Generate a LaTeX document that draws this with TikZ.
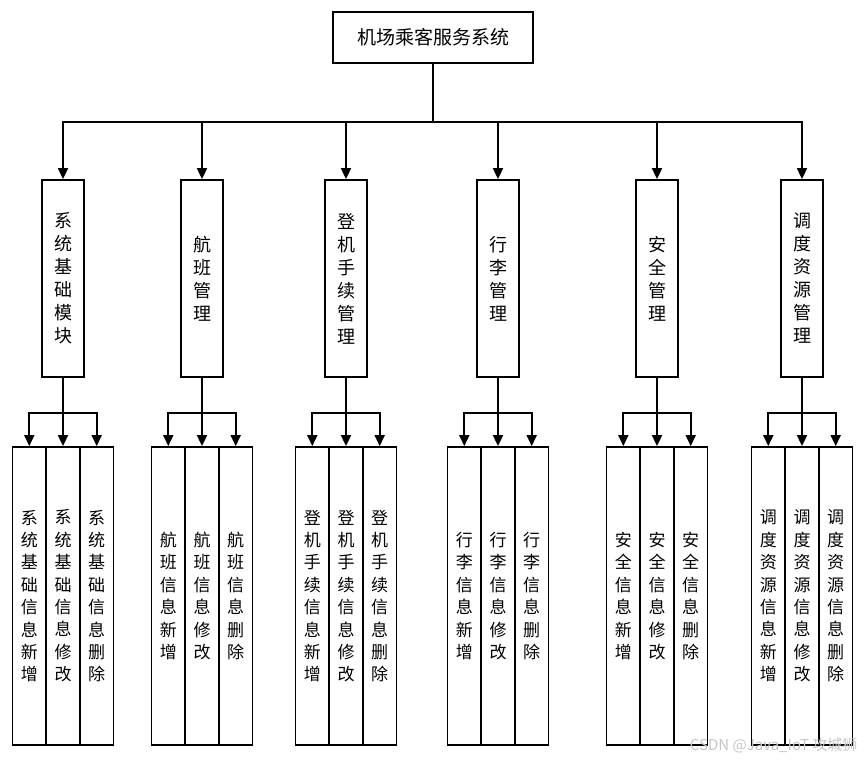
\documentclass[tikz,border=0pt]{standalone}
\usepackage{fontspec}
\setmainfont{Noto Sans CJK SC}
\usetikzlibrary{arrows.meta}
\begin{document}
\begin{tikzpicture}[x=1pt,y=-1pt,
  box/.style={draw,line width=1.8pt,fill=white,inner sep=0pt},
  topbox/.style={box,minimum width=200pt,minimum height=51pt,font=\fontsize{19}{23}\selectfont},
  modbox/.style={box,minimum width=42pt,minimum height=197pt,align=center,font=\fontsize{18}{23}\selectfont},
  leafbox/.style={box,minimum width=33.7pt,minimum height=298pt,align=center,font=\fontsize{17}{22.4}\selectfont},
  arr/.style={line width=1.8pt,-{Triangle[length=11pt,width=10pt]}},
  lnk/.style={line width=1.8pt}]
\useasboundingbox (0,0) rectangle (865,760);
\fill[white] (0,0) rectangle (865,760);
% top
\node[topbox] (top) at (433,37.5) {机场乘客服务系统};
\coordinate (bus) at (433,122);
% modules
\node[modbox] (m1) at (63,278.5) {系\\统\\基\\础\\模\\块};
\node[modbox] (m2) at (202,278.5) {航\\班\\管\\理};
\node[modbox] (m3) at (346,278.5) {登\\机\\手\\续\\管\\理};
\node[modbox] (m4) at (498,278.5) {行\\李\\管\\理};
\node[modbox] (m5) at (657,278.5) {安\\全\\管\\理};
\node[modbox] (m6) at (802,278.5) {调\\度\\资\\源\\管\\理};
\draw[lnk] (top.south) -- (bus);
\foreach \m in {m1,m2,m3,m4,m5,m6}{
  \draw[arr] (bus) -| (\m.north);
}
% leaves
\def\leafrow#1#2#3{%
  \node[leafbox] (#1a) at ([xshift=-33.7pt]#2.south |- 0,596) {#3信\\息\\新\\增};
  \node[leafbox] (#1b) at (#2.south |- 0,596) {#3信\\息\\修\\改};
  \node[leafbox] (#1c) at ([xshift=33.7pt]#2.south |- 0,596) {#3信\\息\\删\\除};
  \coordinate (#1j) at ([yshift=-35pt]#2.south);
  \draw[lnk] (#2.south) -- (#1j);
  \draw[arr] (#1j) -| (#1a.north);
  \draw[arr] (#1j) -- (#1b.north);
  \draw[arr] (#1j) -| (#1c.north);
}
\leafrow{l1}{m1}{系\\统\\基\\础\\}
\leafrow{l2}{m2}{航\\班\\}
\leafrow{l3}{m3}{登\\机\\手\\续\\}
\leafrow{l4}{m4}{行\\李\\}
\leafrow{l5}{m5}{安\\全\\}
\leafrow{l6}{m6}{调\\度\\资\\源\\}
% watermark
\node[text=gray!45,font=\fontsize{15}{17}\selectfont,anchor=east] (wm) at (861,745) {CSDN @Java\_IoT 攻城狮};
\end{tikzpicture}
\end{document}
